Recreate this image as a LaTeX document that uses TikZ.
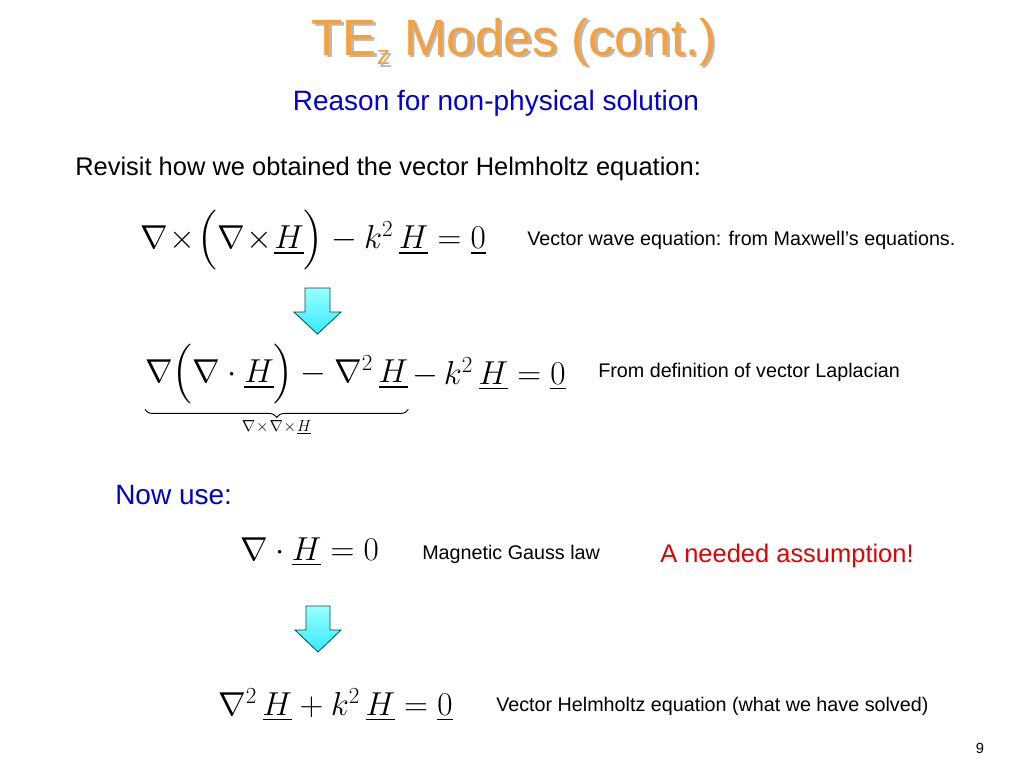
\documentclass[tikz,border=0pt]{standalone}
\usepackage{amsmath}
\usepackage{fontspec}
\setmainfont{Liberation Sans}
\usetikzlibrary{decorations.pathreplacing}
\begin{document}
\begin{tikzpicture}[x=0.75pt,y=-0.75pt,
  txt/.style={anchor=west,inner sep=0pt,font=\fontsize{14.8}{17}\selectfont},
  blue/.style={anchor=west,inner sep=0pt,text=blue!85!black,font=\fontsize{21}{24}\selectfont},
  eq/.style={anchor=west,inner sep=0pt,font=\fontsize{25}{30}\selectfont},
  darr/.style={draw=teal!60!black,line width=0.6pt,top color=cyan!40,bottom color=cyan!90!blue!80}]
\useasboundingbox (0,0) rectangle (1024,768);
\definecolor{ttl}{RGB}{245,160,60}
\newcommand{\ttltext}{TE\raisebox{-0.35ex}{\fontsize{20}{22}\selectfont z} Modes (cont.)}
\node[inner sep=0pt,text=gray!55] at (516.5,44.5) {\fontsize{38.3}{42}\selectfont\ttltext};
\node[inner sep=0pt,text=ttl] (title) at (514,42) {\fontsize{38.3}{42}\selectfont\ttltext};
\node[inner sep=0pt,text=blue!85!black,font=\fontsize{21}{24}\selectfont] (sub) at (496,103) {Reason for non-physical solution};
\node[inner sep=0pt,anchor=west,font=\fontsize{19.1}{22}\selectfont] (rev) at (75,169) {Revisit how we obtained the vector Helmholtz equation:};
\node[eq] (e1) at (140,240) {$\nabla\!\times\!\Bigl(\nabla\!\times\!\underline{H}\Bigr)-k^2\,\underline{H}=\underline{0}$};
\node[txt] (t1) at (527,240) {Vector wave equation: from Maxwell’s equations.};
\path[darr] (305,288) -- (330,288) -- (330,312) -- (341,312) -- (317.5,334) -- (294,312) -- (305,312) -- cycle;
\node[eq] (e2a) at (145,374) {$\nabla\Bigl(\nabla\cdot\underline{H}\Bigr)-\nabla^2\,\underline{H}$};
\node[eq,anchor=west] (e2b) at ([xshift=3pt]e2a.east) {$-\,k^2\,\underline{H}=\underline{0}$};
\draw[decorate,decoration={brace,mirror,amplitude=6pt},line width=0.7pt] ([yshift=-4pt]e2a.south west) -- ([yshift=-4pt]e2a.south east) node[midway,below=8pt,inner sep=0pt,font=\fontsize{12}{14}\selectfont] (lab) {$\nabla\!\times\!\nabla\!\times\!\underline{H}$};
\node[txt] (t2) at (598,372) {From definition of vector Laplacian};
\node[blue] (now) at (115,495) {Now use:};
\node[eq] (e3) at (240,552) {$\nabla\cdot\underline{H}=0$};
\node[txt] (t3) at (422,554) {Magnetic Gauss law};
\node[inner sep=0pt,anchor=west,text=red!90!black,font=\fontsize{19.1}{22}\selectfont] (ass) at (660,556) {A needed assumption!};
\path[darr] (306,606) -- (330,606) -- (330,630) -- (341,630) -- (318,652) -- (295,630) -- (306,630) -- cycle;
\node[eq] (e4) at (218,705) {$\nabla^2\,\underline{H}+k^2\,\underline{H}=\underline{0}$};
\node[txt] (t4) at (496,706) {Vector Helmholtz equation (what we have solved)};
\node[inner sep=0pt,font=\fontsize{11}{13}\selectfont] (pg) at (980,748) {9};
\end{tikzpicture}
\end{document}
